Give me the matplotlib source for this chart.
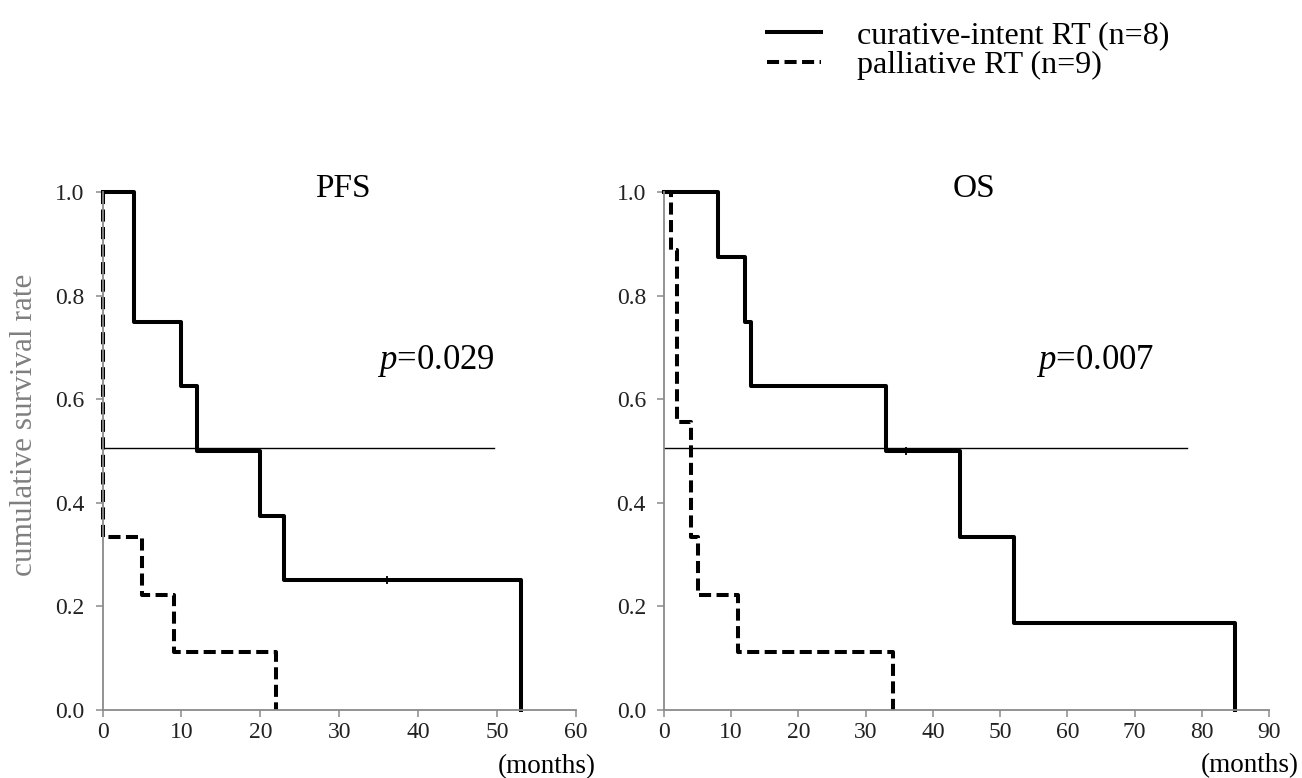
import numpy as np
import matplotlib
matplotlib.use("Agg")
import matplotlib.pyplot as plt

plt.rcParams['font.family'] = ['Liberation Serif', 'DejaVu Serif']
plt.rcParams['mathtext.fontset'] = 'custom'
plt.rcParams['mathtext.rm'] = 'Liberation Serif'
plt.rcParams['mathtext.it'] = 'Liberation Serif:italic'

# Kaplan-Meier steps (months, survival)
pfs_cur_t = [0, 4, 10, 12, 20, 23, 53]
pfs_cur_s = [1.0, 0.75, 0.625, 0.5, 0.375, 0.25, 0.0]
pfs_pal_t = [0, 0, 5, 9, 22]
pfs_pal_s = [1.0, 0.333, 0.222, 0.111, 0.0]
pfs_cens = [(36, 0.25)]

os_cur_t = [0, 8, 12, 13, 33, 44, 52, 85]
os_cur_s = [1.0, 0.875, 0.75, 0.625, 0.5, 0.333, 0.167, 0.0]
os_pal_t = [0, 1, 2, 4, 5, 11, 34]
os_pal_s = [1.0, 0.889, 0.556, 0.333, 0.222, 0.111, 0.0]
os_cens = [(36, 0.5)]

median_y = 0.506
pfs_median_end = 49.6
os_median_end = 77.8

labels = ["curative-intent RT (n=8)", "palliative RT (n=9)"]

W, H = 1302, 778
fig = plt.figure(figsize=(W / 100, H / 100), dpi=100)

ax1 = fig.add_axes([102.5 / W, 1 - 709.5 / H, 473.5 / W, 517.2 / H])
ax2 = fig.add_axes([664 / W, 1 - 709.5 / H, 605 / W, 517.2 / H])

dash = (0, (3.0, 1.35))
spine_col = '#8a8a8a'


def panel(ax, ct, cs, pt, ps, cens, mend, xmax, title, tx, ptxt, px):
    l1, = ax.step(ct, cs, where='post', color='black', lw=2.9, clip_on=False)
    l2, = ax.step(pt, ps, where='post', color='black', lw=2.9, ls=dash, clip_on=False)
    ax.plot([0, mend], [median_y, median_y], color='black', lw=1.0)
    for cx, cy in cens:
        ax.plot(cx, cy, marker='|', color='black', ms=6, mew=1.3)
    ax.set_xlim(0, xmax)
    ax.set_ylim(0, 1.0)
    ax.set_xticks(np.arange(0, xmax + 1, 10))
    ax.set_yticks(np.arange(0, 1.01, 0.2))
    ax.set_yticklabels(['%.1f' % v for v in np.arange(0, 1.01, 0.2)])
    for s in ['top', 'right']:
        ax.spines[s].set_visible(False)
    for s in ['left', 'bottom']:
        ax.spines[s].set_color(spine_col)
        ax.spines[s].set_linewidth(1.3)
    ax.tick_params(axis='both', direction='out', length=5, width=1.1,
                   color=spine_col, labelsize=17, labelcolor='#222222')
    ax.tick_params(axis='x', pad=4)
    ax.tick_params(axis='y', pad=8)
    ax.text(tx, 1.007, title, fontsize=24, ha='center', va='center')
    ax.text(px, 0.674, ptxt, fontsize=25, ha='left', va='center')
    return l1, l2


h1, h2 = panel(ax1, pfs_cur_t, pfs_cur_s, pfs_pal_t, pfs_pal_s, pfs_cens,
               pfs_median_end, 60, 'PFS', 30.4, r'$\it{p}$=0.029', 34.8)
panel(ax2, os_cur_t, os_cur_s, os_pal_t, os_pal_s, os_cens,
      os_median_end, 90, 'OS', 46.1, r'$\it{p}$=0.007', 55.4)

ax1.text(1.042, -0.111, '(months)', transform=ax1.transAxes, fontsize=19.5,
         ha='right', va='center')
ax2.text(1.0496, -0.109, '(months)', transform=ax2.transAxes, fontsize=19.5,
         ha='right', va='center')

ax1.set_ylabel('cumulative survival rate', fontsize=22.5, color='#7f7f7f')
ax1.yaxis.set_label_coords(-0.134, 0.55)

fig.legend([h1, h2], labels, loc='upper left', bbox_to_anchor=(767 / W, 1 - 21 / H),
           frameon=False, fontsize=23, borderpad=0, borderaxespad=0,
           handlelength=1.69, handletextpad=1.12, labelspacing=0.02)

fig.savefig('out.png', dpi=100)
